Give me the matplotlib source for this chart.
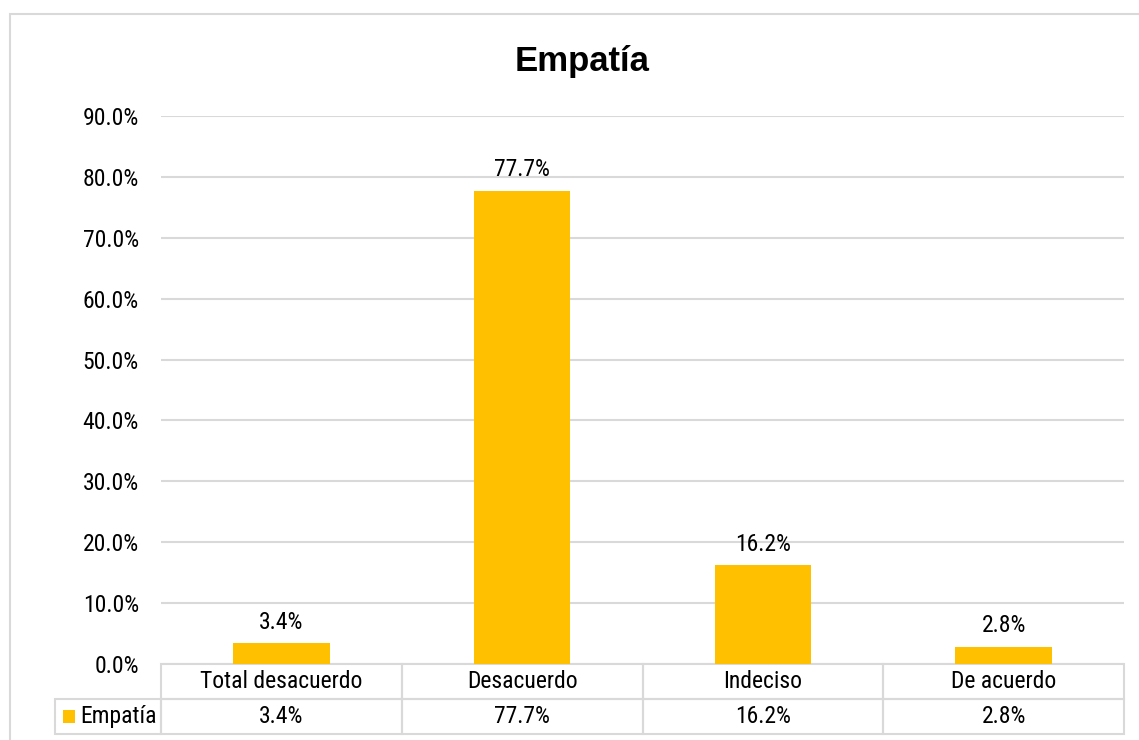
import matplotlib
matplotlib.use("Agg")
import matplotlib.pyplot as plt
from matplotlib import font_manager
from matplotlib.table import Table
from matplotlib.patches import Rectangle

categories = ["Total desacuerdo", "Desacuerdo", "Indeciso", "De acuerdo"]
values = [3.4, 77.7, 16.2, 2.8]
series_name = "Empatía"
title = "Empatía"
yticks = [0, 10, 20, 30, 40, 50, 60, 70, 80, 90]

fl = font_manager.fontManager.ttflist
available = {f.name for f in fl}
narrow = next((f for f in ["Liberation Sans Narrow", "Arial Narrow", "Roboto Condensed",
                           "Open Sans Condensed", "Noto Sans Condensed"] if f in available), None)
if narrow is None:
    cond = [f.name for f in fl if ("Narrow" in f.name or "Condensed" in f.name)
            and "Mono" not in f.name and "Serif" not in f.name]
    narrow = cond[0] if cond else None
if narrow is not None:
    body_font = [narrow, 'DejaVu Sans']
    body_size = 17
else:
    body_font = ['Liberation Sans', 'DejaVu Sans']
    body_size = 15
plt.rcParams['font.family'] = body_font

W, H = 1139, 740
fig = plt.figure(figsize=(W / 100, H / 100), dpi=100)
fig.patch.set_facecolor("white")

# outer chart border
fig.patches.append(Rectangle((10 / W, -0.05), 1.2, 1 - 14 / H + 0.05, transform=fig.transFigure,
                             fill=False, edgecolor="#D9D9D9", linewidth=1.5))

L, R, T, B = 161, 1124, 116, 664
ax = fig.add_axes([L / W, 1 - B / H, (R - L) / W, (B - T) / H])

bar_color = "#FFC000"
grid_color = "#D9D9D9"
x = list(range(len(categories)))
ax.bar(x, values, width=0.4, color=bar_color, zorder=3)
ax.set_xlim(-0.5, len(categories) - 0.5)
ax.set_ylim(0, 90)
ax.set_yticks(yticks)
ax.set_yticklabels([f"{v:.1f}%" for v in yticks], fontsize=body_size, color="#000000")
ax.tick_params(axis='y', length=0, pad=16)
ax.set_xticks([])
for s in ax.spines.values():
    s.set_visible(False)
ax.yaxis.grid(True, color=grid_color, linewidth=1.5, zorder=0)
ax.set_axisbelow(True)

for xi, v in zip(x, values):
    ax.annotate(f"{v:.1f}%", (xi, v), xytext=(0, 7), textcoords="offset points",
                ha="center", va="bottom", fontsize=body_size, color="#000000")

fig.text(582 / W, 1 - 61 / H, title, ha="center", va="center", fontsize=25,
         fontweight="bold", color="#000000", family=['Liberation Sans', 'DejaVu Sans'])

# data table below the axes
lab_w = (L - 55) / (R - L)
tbl_h = (734 - 664) / (B - T)
tb = Table(ax, bbox=[-lab_w, -tbl_h, 1 + lab_w, tbl_h])
cw = 1.0 / len(categories)
rh = 0.5
c = tb.add_cell(0, 0, width=lab_w, height=rh, text="")
c.visible_edges = ""
for j, cat in enumerate(categories):
    tb.add_cell(0, j + 1, width=cw, height=rh, text=cat, loc="center")
tb.add_cell(1, 0, width=lab_w, height=rh, text="")
for j, v in enumerate(values):
    tb.add_cell(1, j + 1, width=cw, height=rh, text=f"{v:.1f}%", loc="center")
for (r, cidx), cell in tb.get_celld().items():
    cell.set_edgecolor(grid_color)
    cell.set_linewidth(1.5)
    cell.set_facecolor("none")
    cell.get_text().set_fontsize(body_size)
    cell.get_text().set_color("#000000")
tb.auto_set_font_size(False)
tb.set_clip_on(False)
ax.add_table(tb)

# legend key square and series name in the row label cell
ax.add_patch(Rectangle(((63 - L) / (R - L), -(723 - 664) / (B - T)), 12 / (R - L), 13 / (B - T),
                       transform=ax.transAxes, facecolor=bar_color, edgecolor="none", clip_on=False))
ax.text((80 - L) / (R - L), -(716 - 664) / (B - T), series_name, transform=ax.transAxes,
        ha="left", va="center", fontsize=body_size, color="#000000", clip_on=False)

fig.savefig("out.png", dpi=100)
